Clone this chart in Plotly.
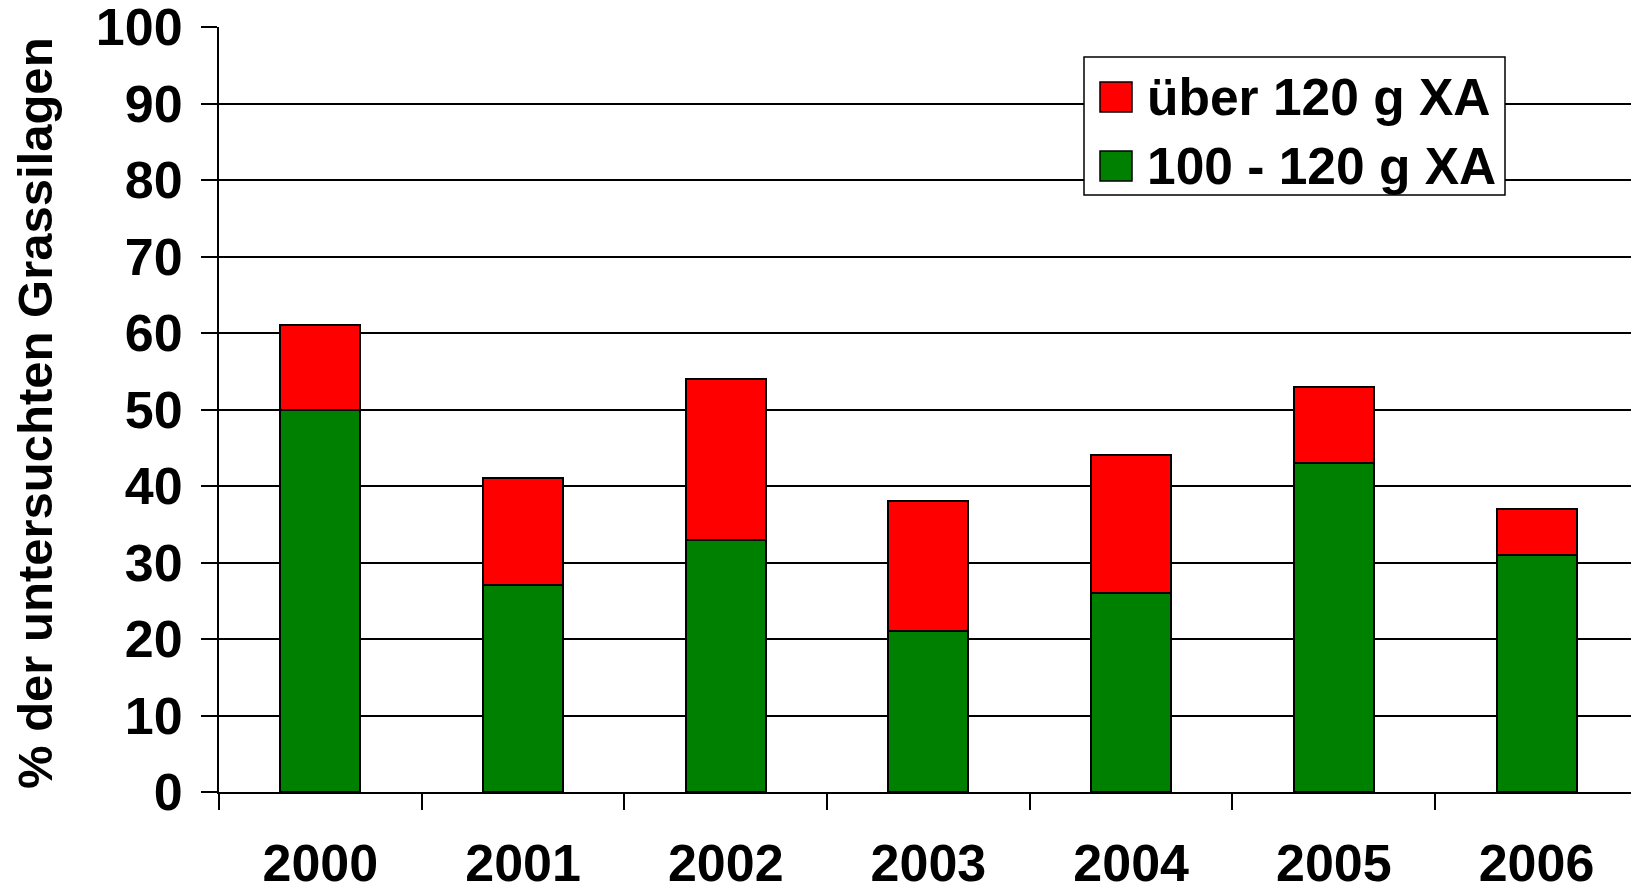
import plotly.graph_objects as go

years = ["2000", "2001", "2002", "2003", "2004", "2005", "2006"]
green_vals = [50, 27, 33, 21, 26, 43, 31]
red_vals = [11, 14, 21, 17, 18, 10, 6]
series_names = ["über 120 g XA", "100 - 120 g XA"]
y_title = "% der untersuchten Grassilagen"
y_ticks = [0, 10, 20, 30, 40, 50, 60, 70, 80, 90, 100]

RED = "#FF0000"
GREEN = "#008000"
FAM = "Liberation Sans, Arial, sans-serif"
TICKFONT = dict(family=FAM, size=52, color="black", weight="bold")
LEGFONT = dict(family=FAM, size=51.5, color="black", weight="bold")
TITLEFONT = dict(family=FAM, size=49, color="black", weight="bold")

W, H = 1631, 885
L, R, T, B = 219, 0, 27, 93
pw, ph = W - L - R, H - T - B

def px(x):
    return (x - L) / pw

def py(y):
    return (H - B - y) / ph

fig = go.Figure()
fig.add_trace(go.Bar(x=years, y=green_vals, name=series_names[1], marker=dict(color=GREEN, line=dict(color="black", width=2)), width=0.395, showlegend=False))
fig.add_trace(go.Bar(x=years, y=red_vals, name=series_names[0], marker=dict(color=RED, line=dict(color="black", width=2)), width=0.395, showlegend=False))

fig.update_layout(
    width=W, height=H,
    margin=dict(l=L, r=R, t=T, b=B, pad=0, autoexpand=False),
    barmode="stack",
    plot_bgcolor="white", paper_bgcolor="white",
    font=TICKFONT,
    showlegend=False,
)
fig.update_xaxes(
    type="category", range=[-0.5, 6.466], automargin=False,
    showline=True, linecolor="black", linewidth=2,
    ticks="outside", ticklen=16, tickwidth=2, tickcolor="black",
    tickson="boundaries", showgrid=False,
    ticklabelstandoff=25, ticklabeloverflow="allow",
    tickfont=TICKFONT,
)
fig.update_yaxes(
    range=[0, 100], tickvals=y_ticks, automargin=False,
    showline=True, linecolor="black", linewidth=2,
    ticks="outside", ticklen=16, tickwidth=1.5, tickcolor="black",
    showgrid=True, gridcolor="black", gridwidth=1.5,
    zeroline=False,
    ticklabelstandoff=8, ticklabeloverflow="allow",
    tickfont=TICKFONT,
)

# y axis title
fig.add_annotation(text=y_title, xref="paper", yref="paper", x=0, y=py(413), xshift=-(L - 35),
                   textangle=-90, showarrow=False, font=TITLEFONT, xanchor="center", yanchor="middle")

# legend
fig.add_shape(type="rect", xref="paper", yref="paper", x0=px(1084), x1=px(1505), y0=py(195), y1=py(57),
              fillcolor="white", line=dict(color="black", width=1.5), layer="above")
leg = [(series_names[0], RED, 82, 112, 97), (series_names[1], GREEN, 151, 181, 166)]
for name, col, ytop, ybot, yc in leg:
    fig.add_shape(type="rect", xref="paper", yref="paper", x0=px(1100), x1=px(1132), y0=py(ybot), y1=py(ytop),
                  fillcolor=col, line=dict(color="black", width=1.5), layer="above")
    fig.add_annotation(text=name, xref="paper", yref="paper", x=px(1145), y=py(yc), showarrow=False,
                       xanchor="left", yanchor="middle", font=LEGFONT)

fig.write_html("out.html")
